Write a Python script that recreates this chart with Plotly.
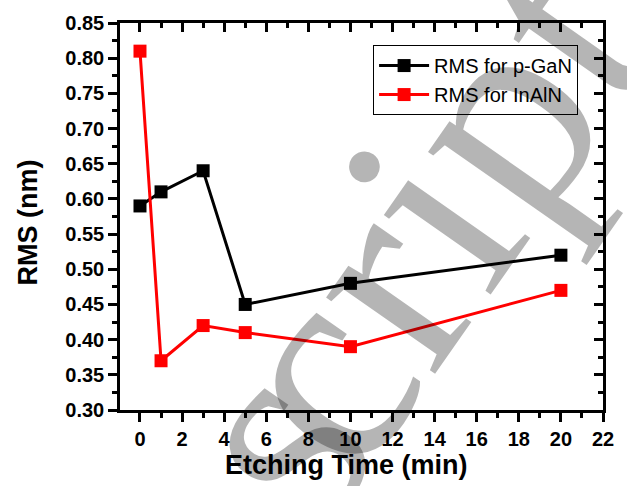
import plotly.graph_objects as go

time_min = [0, 1, 3, 5, 10, 20]
rms_pgan = [0.59, 0.61, 0.64, 0.45, 0.48, 0.52]
rms_inaln = [0.81, 0.37, 0.42, 0.41, 0.39, 0.47]
series_names = ["RMS for p-GaN", "RMS for InAlN"]
x_ticks = list(range(0, 23, 2))
y_ticks = [0.30, 0.35, 0.40, 0.45, 0.50, 0.55, 0.60, 0.65, 0.70, 0.75, 0.80, 0.85]
x_title = "Etching Time (min)"
y_title = "RMS (nm)"
watermark_parts = ["s", "cript"]

X_RANGE = [-0.95, 22]
Y_RANGE = [0.30, 0.85]
FONT = "Liberation Sans, Arial, sans-serif"

fig = go.Figure()
fig.add_trace(go.Scatter(x=time_min, y=rms_pgan, name=series_names[0], mode="lines+markers",
                         line=dict(color="black", width=3),
                         marker=dict(symbol="square", size=13, color="black")))
fig.add_trace(go.Scatter(x=time_min, y=rms_inaln, name=series_names[1], mode="lines+markers",
                         line=dict(color="#ff0000", width=3),
                         marker=dict(symbol="square", size=13, color="#ff0000")))
# helper trace for the mirrored (inward-tick) axes
fig.add_trace(go.Scatter(x=[X_RANGE[0]], y=[Y_RANGE[0]], xaxis="x2", yaxis="y2", mode="markers",
                         marker=dict(opacity=0), showlegend=False, hoverinfo="skip"))

tickfont = dict(family=FONT, size=20, color="black", weight="bold")
titlefont = dict(family=FONT, size=27, color="black", weight="bold")
common = dict(showline=True, linecolor="black", linewidth=2.5, showgrid=False, zeroline=False,
              ticklen=9, tickwidth=2.5, tickcolor="black")

fig.update_layout(
    width=627, height=486,
    margin=dict(l=120, r=24, t=20, b=76),
    paper_bgcolor="white", plot_bgcolor="white",
    showlegend=True,
    legend=dict(x=0.524, y=0.943, xanchor="left", yanchor="top",
                bordercolor="black", borderwidth=1, bgcolor="rgba(255,255,255,0)",
                font=dict(family=FONT, size=20, color="black"),
                itemwidth=50, tracegroupgap=0),
    xaxis=dict(range=X_RANGE, tickmode="array", tickvals=x_ticks, ticks="outside",
               tickfont=tickfont,
               minor=dict(dtick=1, ticklen=5, tickwidth=2.5, tickcolor="black", ticks="outside"),
               **common),
    yaxis=dict(range=Y_RANGE, tickmode="array", tickvals=y_ticks, tickformat=".2f", ticks="outside",
               tickfont=tickfont,
               minor=dict(dtick=0.025, ticklen=5, tickwidth=2.5, tickcolor="black", ticks="outside"),
               **common),
    xaxis2=dict(range=X_RANGE, overlaying="x", side="top", anchor="y2", tickmode="array", tickvals=x_ticks,
                ticks="inside", showticklabels=False,
                minor=dict(dtick=1, ticklen=5, tickwidth=2.5, tickcolor="black", ticks="inside"),
                **common),
    yaxis2=dict(range=Y_RANGE, overlaying="y", side="right", anchor="x2", tickmode="array", tickvals=y_ticks,
                ticks="inside", showticklabels=False,
                minor=dict(dtick=0.025, ticklen=5, tickwidth=2.5, tickcolor="black", ticks="inside"),
                **common),
)

# axis titles as annotations for precise placement
fig.add_annotation(text=x_title, xref="paper", yref="paper", x=0.468, y=-0.141,
                   xanchor="center", yanchor="middle", showarrow=False, font=titlefont)
fig.add_annotation(text=y_title, xref="paper", yref="paper", x=-0.19, y=0.485,
                   xanchor="center", yanchor="middle", showarrow=False, textangle=-90, font=titlefont)

# watermark (semi-transparent, drawn over the plot like in the source)
wm_font = dict(family="Liberation Serif, Times New Roman, serif", size=290, color="rgba(0,0,0,0.29)")
wm_pos = [(0.316, -0.072), (0.643, 0.515)]
for part, (px, py) in zip(watermark_parts, wm_pos):
    fig.add_annotation(text=part, xref="paper", yref="paper", x=px, y=py,
                       xanchor="center", yanchor="middle", showarrow=False, textangle=-55,
                       font=wm_font)

fig.write_html("out.html")
